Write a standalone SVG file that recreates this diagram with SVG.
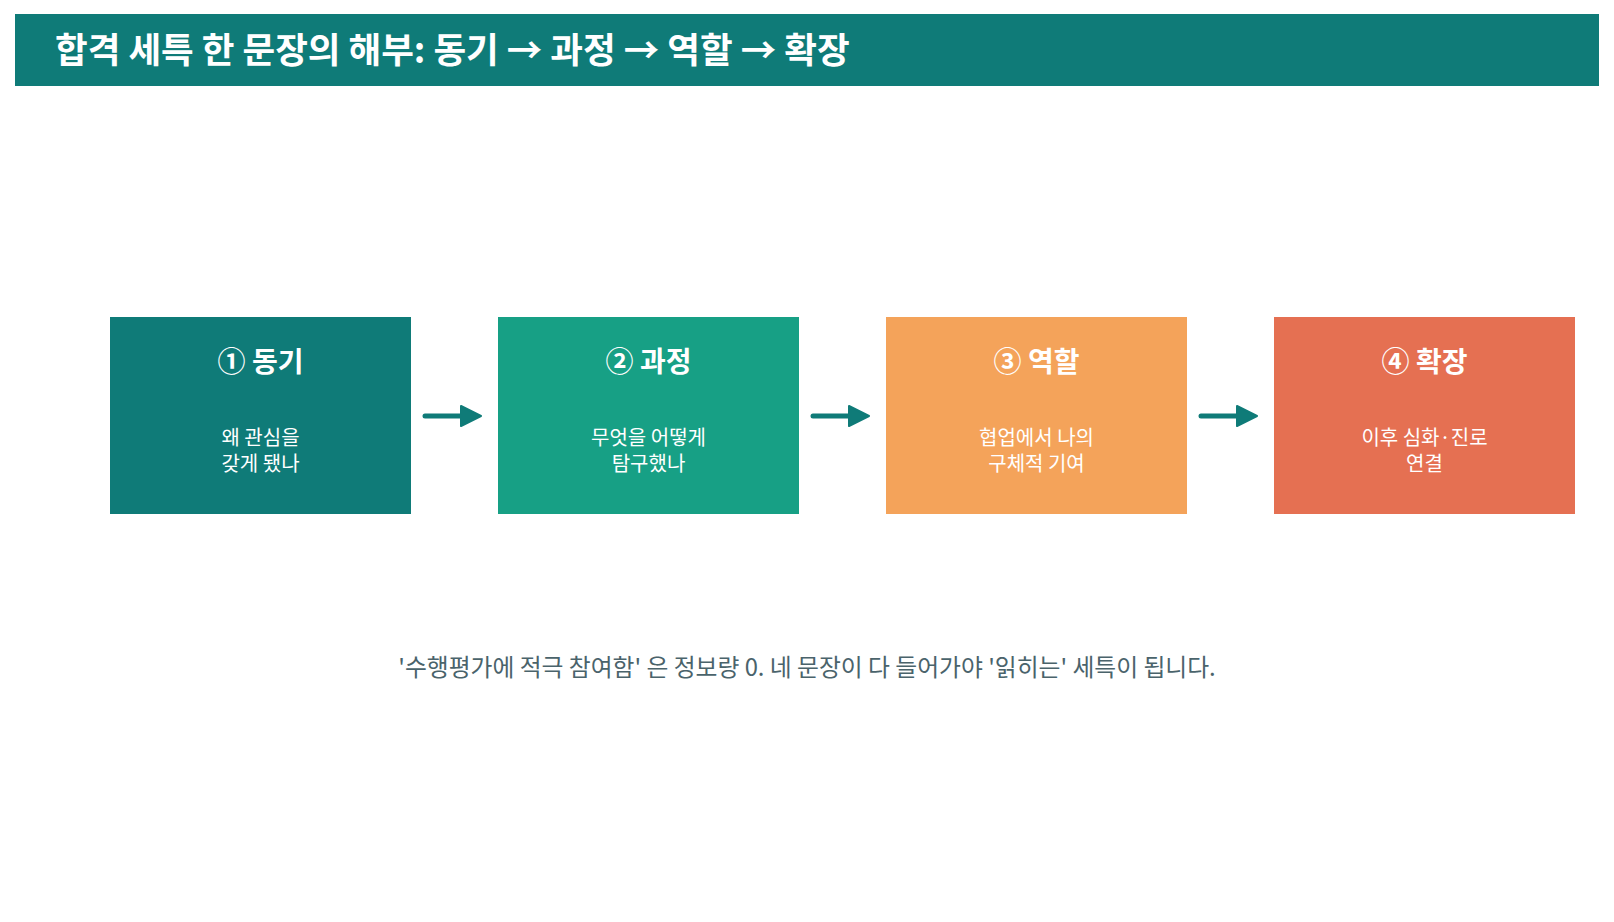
<svg xmlns="http://www.w3.org/2000/svg" width="1614" height="922" viewBox="0 0 1614 922">
<defs>
<style>
text{font-family:"Noto Sans CJK KR","Noto Sans",sans-serif;}
.hdr{font-size:35.5px;font-weight:700;fill:#ffffff;}
.ttl{font-size:28px;font-weight:700;fill:#ffffff;text-anchor:middle;}
.body{font-size:20px;font-weight:400;fill:#ffffff;text-anchor:middle;}
.cap{font-size:23.8px;font-weight:400;fill:#4a636b;text-anchor:middle;}
.conn{stroke:#0f7b78;stroke-width:5;stroke-linecap:round;fill:none;}
.head{fill:#0f7b78;stroke:#0f7b78;stroke-width:2;stroke-linejoin:round;}
</style>
</defs>
<rect width="1614" height="922" fill="#ffffff"/>
<g id="header">
<rect x="15" y="14" width="1584" height="72" fill="#0f7b78"/>
<text class="hdr" x="55" y="63">합격 세특 한 문장의 해부: 동기 → 과정 → 역할 → 확장</text>
</g>
<g id="node1">
<rect x="110" y="317" width="301" height="197" fill="#0f7b78"/>
<text class="ttl" x="260.5" y="372">① 동기</text>
<text class="body" x="260.5" y="445">왜 관심을</text>
<text class="body" x="260.5" y="471">갖게 됐나</text>
</g>
<g id="node2">
<rect x="498" y="317" width="301" height="197" fill="#17a085"/>
<text class="ttl" x="648.5" y="372">② 과정</text>
<text class="body" x="648.5" y="445">무엇을 어떻게</text>
<text class="body" x="648.5" y="471">탐구했나</text>
</g>
<g id="node3">
<rect x="886" y="317" width="301" height="197" fill="#f4a35a"/>
<text class="ttl" x="1036.5" y="372">③ 역할</text>
<text class="body" x="1036.5" y="445">협업에서 나의</text>
<text class="body" x="1036.5" y="471">구체적 기여</text>
</g>
<g id="node4">
<rect x="1274" y="317" width="301" height="197" fill="#e57052"/>
<text class="ttl" x="1424.5" y="372">④ 확장</text>
<text class="body" x="1424.5" y="445">이후 심화·진로</text>
<text class="body" x="1424.5" y="471">연결</text>
</g>
<g id="connectors">
<line class="conn" x1="425" y1="416" x2="462" y2="416"/>
<polygon class="head" points="461,406 481,416 461,426"/>
<line class="conn" x1="813" y1="416" x2="850" y2="416"/>
<polygon class="head" points="849,406 869,416 849,426"/>
<line class="conn" x1="1201" y1="416" x2="1238" y2="416"/>
<polygon class="head" points="1237,406 1257,416 1237,426"/>
</g>
<g id="caption">
<text class="cap" x="807" y="676">'수행평가에 적극 참여함' 은 정보량 0. 네 문장이 다 들어가야 '읽히는' 세특이 됩니다.</text>
</g>
</svg>
